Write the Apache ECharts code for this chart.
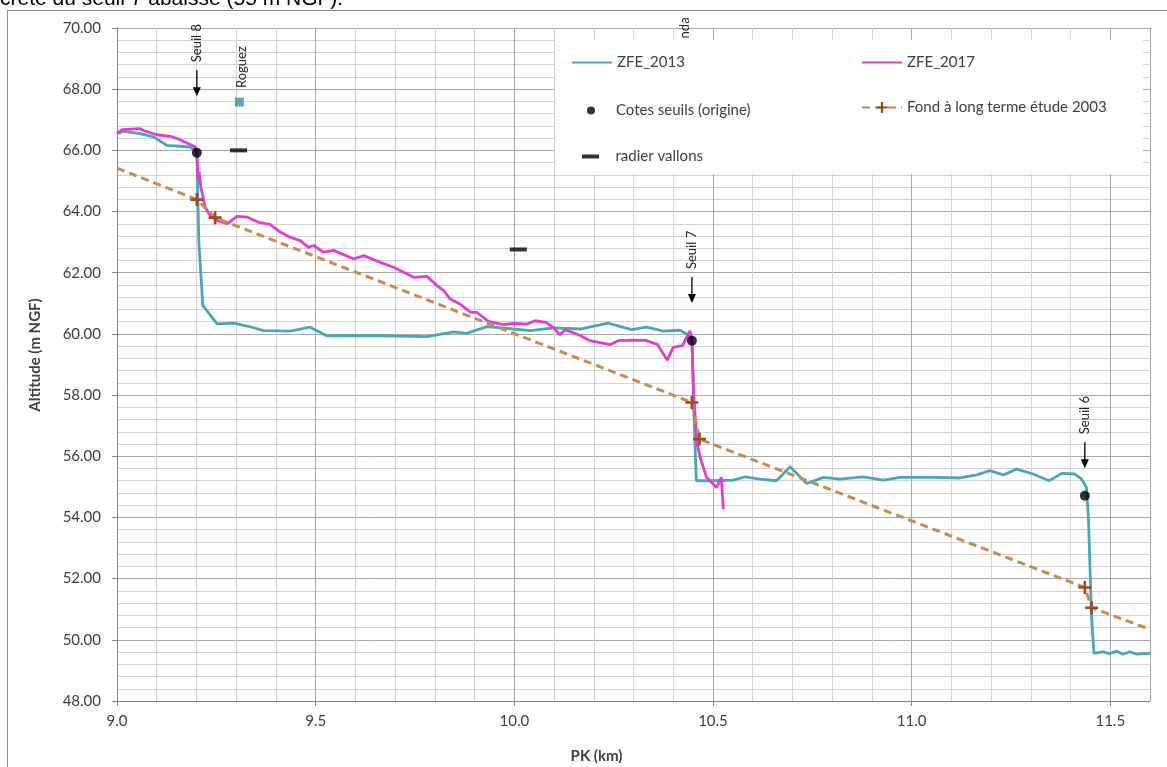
<!DOCTYPE html>
<html>
<head>
<meta charset="utf-8">
<script src="https://cdn.jsdelivr.net/npm/echarts@6/dist/echarts.min.js"></script>
<style>
html, body { margin: 0; padding: 0; background: #fff; }
#chart { width: 1167px; height: 767px; }
</style>
</head>
<body>
<div id="chart"></div>
<script>
// profils en long [PK km, altitude m NGF]
const zfe2013 = [
  [9.000, 66.55], [9.017, 66.62], [9.058, 66.55], [9.092, 66.44], [9.126, 66.16], [9.184, 66.11],
  [9.201, 65.94], [9.206, 63.00], [9.216, 60.93], [9.252, 60.33], [9.294, 60.35], [9.330, 60.25],
  [9.369, 60.11], [9.436, 60.09], [9.486, 60.22], [9.528, 59.94], [9.662, 59.94], [9.780, 59.91],
  [9.848, 60.07], [9.881, 60.02], [9.931, 60.24], [9.998, 60.16], [10.040, 60.11], [10.099, 60.20],
  [10.166, 60.16], [10.236, 60.35], [10.295, 60.14], [10.333, 60.22], [10.375, 60.09], [10.417, 60.12],
  [10.434, 60.00], [10.447, 59.84], [10.452, 57.50], [10.458, 55.20], [10.501, 55.20], [10.551, 55.22],
  [10.581, 55.33], [10.618, 55.25], [10.660, 55.20], [10.694, 55.66], [10.736, 55.11], [10.778, 55.31],
  [10.819, 55.25], [10.878, 55.33], [10.929, 55.22], [10.971, 55.31], [11.055, 55.31], [11.122, 55.29],
  [11.164, 55.39], [11.197, 55.53], [11.231, 55.39], [11.264, 55.58], [11.306, 55.42], [11.346, 55.20],
  [11.378, 55.44], [11.411, 55.42], [11.428, 55.25], [11.440, 54.98], [11.445, 54.00], [11.449, 52.36],
  [11.453, 50.72], [11.459, 49.56], [11.482, 49.61], [11.499, 49.55], [11.516, 49.63], [11.532, 49.53],
  [11.549, 49.61], [11.566, 49.53], [11.600, 49.56]
]
const zfe2017 = [
  [9.000, 66.55], [9.013, 66.68], [9.058, 66.71], [9.067, 66.65], [9.100, 66.51], [9.134, 66.46],
  [9.159, 66.35], [9.184, 66.19], [9.197, 66.11], [9.201, 65.94], [9.204, 65.05], [9.207, 65.30],
  [9.211, 64.80], [9.222, 64.14], [9.235, 63.85], [9.252, 63.71], [9.277, 63.60], [9.302, 63.84],
  [9.327, 63.82], [9.356, 63.65], [9.386, 63.57], [9.411, 63.33], [9.436, 63.16], [9.461, 63.05],
  [9.482, 62.83], [9.495, 62.89], [9.520, 62.67], [9.545, 62.73], [9.596, 62.45], [9.621, 62.56],
  [9.662, 62.34], [9.696, 62.18], [9.747, 61.85], [9.780, 61.88], [9.805, 61.58], [9.822, 61.42],
  [9.838, 61.15], [9.864, 60.97], [9.889, 60.71], [9.906, 60.70], [9.935, 60.41], [9.973, 60.30],
  [9.998, 60.34], [10.032, 60.32], [10.052, 60.43], [10.080, 60.38], [10.099, 60.20], [10.115, 59.97],
  [10.128, 60.14], [10.166, 59.95], [10.190, 59.78], [10.241, 59.65], [10.262, 59.78], [10.300, 59.80],
  [10.330, 59.79], [10.360, 59.66], [10.385, 59.15], [10.400, 59.56], [10.424, 59.62], [10.434, 59.90],
  [10.442, 60.10], [10.447, 59.85], [10.451, 58.14], [10.460, 56.40], [10.468, 55.96], [10.484, 55.31],
  [10.509, 54.98], [10.521, 55.31], [10.526, 54.27]
]
const cotesSeuils = [[9.201, 65.92], [10.447, 59.78], [11.436, 54.71]]
const fondLongTerme = [
  [9.000, 65.42], [9.201, 64.39], [9.247, 63.80], [10.447, 57.76],
  [10.466, 56.56], [11.436, 51.71], [11.453, 51.05], [11.600, 50.34]
]
const radierVallons = [[9.306, 66.00], [10.010, 62.76]]
const roguez = [[9.308, 67.58]]

// annotations
const seuilLabels = ['Seuil 8', 'Seuil 7', 'Seuil 6']
const seuilKm = [9.201, 10.447, 11.436]
const seuilArrowTip = [67.77, 61.01, 55.61]
const ndaAnchor = [10.428, 69.66]

// axes
const xMin = 9, xMax = 11.6, xStep = 0.5
const yMin = 48, yMax = 70, yStep = 2

const FONT = 'Lato'
const C2013 = '#4BA6BA'
const C2017 = '#E13CD3'
const CFOND = '#CD8A4E'
const CCROSS = '#9C4A1A'
const CROSS = 'path://M4,0H6V4H10V6H6V10H4V6H0V4H4Z'
const DASH = 'path://M0,0H17V4H0Z'

const chart = echarts.init(document.getElementById('chart'))

const legendBase = {
  orient: 'horizontal',
  padding: 0,
  itemGap: 0,
  selectedMode: false,
  textStyle: { fontFamily: FONT, fontSize: 15, color: '#404040' },
}

const axisGray = '#868686'
const labelGray = '#404040'

const option = {
  animation: false,
  backgroundColor: '#fff',
  textStyle: { fontFamily: FONT },
  grid: { left: 117, top: 28, width: 1033, height: 673, containLabel: false, outerBoundsMode: 'none' },
  legend: [
    { ...legendBase, data: ['ZFE_2013'], left: 571, top: 55, itemWidth: 40, itemHeight: 14, itemStyle: { opacity: 0 } },
    { ...legendBase, data: ['ZFE_2017'], left: 861, top: 55, itemWidth: 40, itemHeight: 14, itemStyle: { opacity: 0 } },
    { ...legendBase, data: ['Cotes seuils (origine)'], left: 587, top: 103, itemWidth: 40, itemHeight: 8 },
    { ...legendBase, data: ['Fond à long terme étude 2003'], left: 861, top: 100, itemWidth: 40, itemHeight: 14 },
    { ...legendBase, data: ['radier vallons'], left: 582, top: 149, itemWidth: 40, itemHeight: 4 },
  ],
  xAxis: {
    type: 'value',
    min: xMin, max: xMax, interval: xStep,
    name: 'PK (km)',
    nameLocation: 'middle',
    nameGap: 48,
    nameTextStyle: { fontFamily: FONT, fontSize: 15, fontWeight: 'bold', color: labelGray, padding: [0, 74, 0, 0] },
    axisLine: { show: true, onZero: false, lineStyle: { color: axisGray, width: 1 } },
    axisTick: { show: true, length: 5, lineStyle: { color: axisGray } },
    axisLabel: {
      showMaxLabel: false,
      margin: 13,
      fontFamily: FONT, fontSize: 15, color: labelGray,
      formatter: v => v.toFixed(1),
    },
    splitLine: { show: true, lineStyle: { color: '#a9a9a9', width: 1 } },
    minorTick: { show: false, splitNumber: 5 },
    minorSplitLine: { show: true, lineStyle: { color: '#d3d3d3', width: 1 } },
  },
  yAxis: {
    type: 'value',
    min: yMin, max: yMax, interval: yStep,
    name: 'Altitude (m NGF)',
    nameLocation: 'middle',
    nameGap: 74,
    nameTextStyle: { fontFamily: FONT, fontSize: 15, fontWeight: 'bold', color: labelGray, padding: [0, 0, 0, 19] },
    axisLine: { show: true, lineStyle: { color: axisGray, width: 1 } },
    axisTick: { show: true, length: 5, lineStyle: { color: axisGray } },
    axisLabel: {
      margin: 16,
      fontFamily: FONT, fontSize: 15, color: labelGray,
      formatter: v => v.toFixed(2),
    },
    splitLine: { show: true, lineStyle: { color: '#a9a9a9', width: 1 } },
    minorTick: { show: false, splitNumber: 5 },
    minorSplitLine: { show: true, lineStyle: { color: '#d3d3d3', width: 1 } },
  },
  series: [
    {
      name: 'ZFE_2013',
      type: 'line',
      data: zfe2013,
      symbol: 'none',
      lineStyle: { color: C2013, width: 2.8 },
      itemStyle: { color: C2013 },
    },
    {
      name: 'ZFE_2017',
      type: 'line',
      data: zfe2017,
      symbol: 'none',
      lineStyle: { color: C2017, width: 2.8 },
      itemStyle: { color: C2017 },
    },
    {
      name: 'Cotes seuils (origine)',
      type: 'scatter',
      data: cotesSeuils,
      symbol: 'circle',
      symbolSize: 10,
      itemStyle: { color: '#000' },
      z: 4,
    },
    {
      name: 'Fond à long terme étude 2003',
      type: 'line',
      data: fondLongTerme.map((p, i) => ({
        value: p,
        symbol: (i === 0 || i === fondLongTerme.length - 1) ? 'none' : CROSS,
      })),
      symbol: CROSS,
      symbolSize: 13,
      showSymbol: true,
      lineStyle: { color: CFOND, width: 3, type: [8, 5] },
      itemStyle: { color: CCROSS },
      z: 3,
    },
    {
      name: 'radier vallons',
      type: 'scatter',
      data: radierVallons,
      symbol: DASH,
      symbolSize: [17, 4],
      symbolKeepAspect: false,
      itemStyle: { color: '#000' },
      z: 4,
    },
    {
      name: 'Roguez',
      type: 'scatter',
      data: roguez,
      symbol: 'rect',
      symbolSize: 9,
      itemStyle: { color: '#3A93A3' },
      z: 4,
    },
  ],
}

chart.setOption(option)

//** annotations placées via l'échelle du graphique */
const toPx = p => chart.convertToPixel({ gridIndex: 0 }, p)

function vText(text, x, yBottom) {
  return {
    type: 'text', x, y: yBottom, rotation: Math.PI / 2, z: 5,
    style: { text, font: '13px Lato', fill: '#262626', align: 'left', verticalAlign: 'middle' },
  }
}

const graphics = [
  // fond blanc de la légende
  { type: 'rect', z: 1, shape: { x: 555, y: 40, width: 588, height: 134 }, style: { fill: '#fff' } },
  // cadre de la zone graphique
  { type: 'line', z: 5, shape: { x1: 7.5, y1: 10, x2: 7.5, y2: 767 }, style: { stroke: '#8c8c8c', lineWidth: 1 } },
  { type: 'line', z: 5, shape: { x1: 7, y1: 10.5, x2: 1167, y2: 10.5 }, style: { stroke: '#8c8c8c', lineWidth: 1 } },
  // texte du document au-dessus (coupé)
  {
    type: 'text', x: 0, y: 10, z: 5,
    style: { text: 'crête du seuil 7 abaissé (55 m NGF).', font: '21px "Liberation Sans"', fill: '#000', verticalAlign: 'bottom' },
  },
]

seuilLabels.forEach((label, i) => {
  const [x, yTip] = toPx([seuilKm[i], seuilArrowTip[i]])
  graphics.push(
    { type: 'line', z: 5, shape: { x1: x, y1: yTip - 26, x2: x, y2: yTip - 7 }, style: { stroke: '#000', lineWidth: 1.3 } },
    { type: 'polygon', z: 5, shape: { points: [[x - 4, yTip - 9], [x + 4, yTip - 9], [x, yTip]] }, style: { fill: '#000' } },
    vText(label, x, yTip - 34)
  )
})

const [rx, ry] = toPx(roguez[0])
graphics.push(vText('Roguez', rx + 2, ry - 14))

const [nx, ny] = toPx(ndaAnchor)
graphics.push(vText('nda', nx, ny))

chart.setOption({ graphic: graphics })
</script>
</body>
</html>
